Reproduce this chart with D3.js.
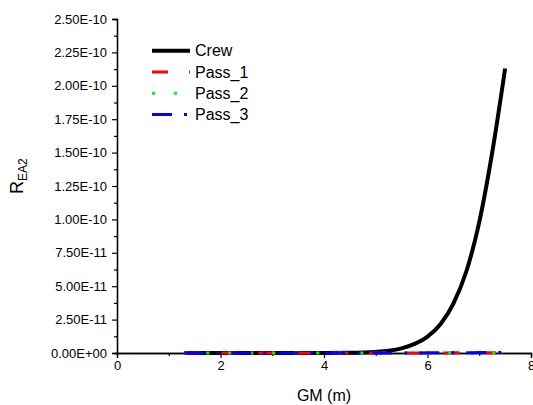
<!DOCTYPE html>
<html>
<head>
<meta charset="utf-8">
<script src="https://cdn.jsdelivr.net/npm/d3@7"></script>
<style>
body { margin: 0; background: #fff; }
text { font-family: "Liberation Sans", Arial, sans-serif; }
</style>
</head>
<body>
<div id="chart"></div>
<script>
// GM (m) sample positions and R_EA2 values (units of 1e-10)
var gm    = [1.3, 1.5, 2.0, 2.5, 3.0, 3.5, 4.0, 4.5, 4.75, 5.0, 5.25, 5.5, 5.75, 6.0, 6.25, 6.5, 6.75, 7.0, 7.25, 7.5];
var crew  = [0, 0, 0, 0, 0, 0, 0, 0.001, 0.003, 0.008, 0.017, 0.035, 0.068, 0.122, 0.215, 0.37, 0.61, 0.98, 1.5, 2.13];
var pass1 = [0, 0, 0, 0, 0, 0, 0, 0, 0, 0, 0, 0, 0, 0, 0.0005, 0.001, 0.001, 0.0015, 0.002, 0.002];
var pass2 = [0, 0, 0, 0, 0, 0, 0, 0, 0, 0, 0, 0, 0, 0, 0.0005, 0.001, 0.0015, 0.002, 0.0025, 0.003];
var pass3 = [0, 0, 0, 0, 0, 0, 0, 0, 0, 0, 0, 0, 0.0005, 0.001, 0.001, 0.0015, 0.002, 0.003, 0.004, 0.005];
var seriesNames = ["Crew", "Pass_1", "Pass_2", "Pass_3"];
var xTicks = [0, 2, 4, 6, 8];
var yTickLabels = ["0.00E+00", "2.50E-11", "5.00E-11", "7.50E-11", "1.00E-10", "1.25E-10", "1.50E-10", "1.75E-10", "2.00E-10", "2.25E-10", "2.50E-10"];

var width = 533, height = 405;
var margin = {left: 117, right: 2, top: 19, bottom: 52};

var svg = d3.select("#chart").append("svg").attr("width", width).attr("height", height);

var x = d3.scaleLinear().domain([0, 8]).range([margin.left, width - margin.right]);
var y = d3.scaleLinear().domain([0, 2.5e-10]).range([height - margin.bottom, margin.top]);

var styles = {
	"Crew":   {color: "#000000", width: 4, dash: null},
	"Pass_1": {color: "#ff0000", width: 3, dash: "16,21"},
	"Pass_2": {color: "#00ff00", width: 3, dash: "3,19"},
	"Pass_3": {color: "#0000ff", width: 3, dash: "20,12,3,12"}
};
var values = {"Crew": crew, "Pass_1": pass1, "Pass_2": pass2, "Pass_3": pass3};

// axes
var xAxis = d3.axisBottom(x).tickValues(xTicks).tickSize(5).tickPadding(3).tickFormat(d3.format("d"));
var xMinor = d3.axisBottom(x).tickValues([1, 3, 5, 7]).tickSize(3).tickFormat("");
var yTicks = yTickLabels.map(function(d, i) { return i * 2.5e-11; });
var yAxis = d3.axisLeft(y).tickValues(yTicks).tickSize(5).tickPadding(5)
	.tickFormat(function(d, i) { return yTickLabels[i]; });
var yMinorVals = yTicks.slice(0, -1).map(function(d) { return d + 1.25e-11; });
var yMinor = d3.axisLeft(y).tickValues(yMinorVals).tickSize(3).tickFormat("");

function styleAxis(g) {
	g.select(".domain").attr("stroke", "#000").attr("stroke-width", 1.3);
	g.selectAll(".tick line").attr("stroke", "#000").attr("stroke-width", 1.2);
	g.selectAll("text").attr("font-size", 13).attr("fill", "#000")
		.attr("font-family", "'Liberation Sans', Arial, sans-serif");
}

svg.append("g").attr("transform", "translate(0," + y(0) + ")").call(xAxis).call(styleAxis);
svg.append("g").attr("transform", "translate(0," + y(0) + ")").call(xMinor).call(styleAxis);
svg.append("g").attr("transform", "translate(" + x(0) + ",0)").call(yAxis).call(styleAxis);
svg.append("g").attr("transform", "translate(" + x(0) + ",0)").call(yMinor).call(styleAxis);

// lines
var line = d3.line()
	.x(function(d) { return x(d[0]); })
	.y(function(d) { return y(d[1] * 1e-10); })
	.curve(d3.curveMonotoneX);

seriesNames.forEach(function(name) {
	var s = styles[name];
	svg.append("path")
		.datum(gm.map(function(g, i) { return [g, values[name][i]]; }))
		.attr("fill", "none")
		.attr("stroke", s.color)
		.attr("stroke-width", s.width)
		.attr("stroke-dasharray", s.dash)
		.attr("d", line);
});

// legend
var legend = svg.append("g");
seriesNames.forEach(function(name, i) {
	var s = styles[name];
	var ly = 50.7 + i * 21.3;
	legend.append("line")
		.attr("x1", 152).attr("x2", 190).attr("y1", ly).attr("y2", ly)
		.attr("stroke", s.color).attr("stroke-width", s.width)
		.attr("stroke-dasharray", s.dash);
	legend.append("text")
		.attr("x", 195).attr("y", ly + 5.5)
		.attr("font-size", 16).attr("fill", "#000")
		.text(name);
});

// axis titles
svg.append("text")
	.attr("x", (x(0) + x(8)) / 2).attr("y", 401)
	.attr("text-anchor", "middle").attr("font-size", 16)
	.text("GM (m)");

var yt = svg.append("text")
	.attr("transform", "translate(23,194) rotate(-90)")
	.attr("font-size", 18);
yt.append("tspan").text("R");
yt.append("tspan").attr("font-size", 12).attr("dy", 4).text("EA2");
</script>
</body>
</html>
